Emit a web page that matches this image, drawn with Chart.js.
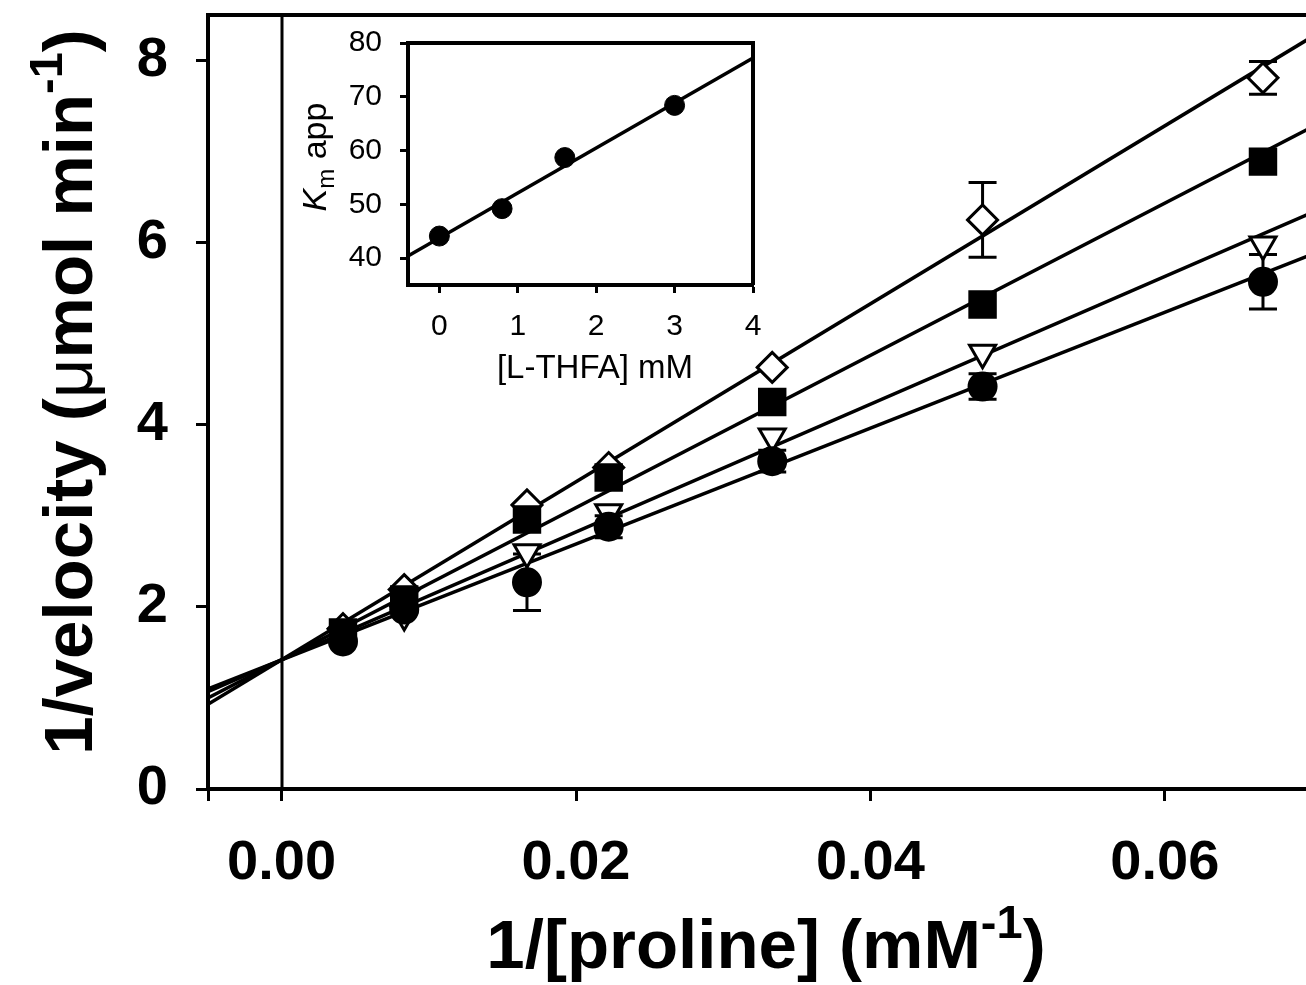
<!DOCTYPE html>
<html>
<head>
<meta charset="utf-8">
<script src="https://cdn.jsdelivr.net/npm/chart.js@4/dist/chart.umd.min.js"></script>
<style>
  html, body { margin: 0; padding: 0; background: #fff; overflow: hidden; }
  #wrap { position: relative; width: 1306px; height: 985px; overflow: hidden; }
  #mainChart { position: absolute; left: 0; top: 0; }
  #insetChart { position: absolute; left: 300px; top: 0; }
</style>
</head>
<body>
<div id="wrap">
  <canvas id="mainChart" width="1312" height="985"></canvas>
  <canvas id="insetChart" width="470" height="392"></canvas>
</div>
<script>
/* ================= DATA ================= */

// 1/[proline] (mM^-1) for 240, 120, 60, 45, 30, 21 and 15 mM proline
const invProline = [0.00417, 0.00833, 0.01667, 0.02222, 0.03333, 0.04762, 0.06667];

// 1/velocity at each L-THFA level
const diamondY  = [1.76, 2.19, 3.12, 3.53, 4.63, 6.25, 7.81];
const diamondEr = [0, 0, 0, 0, 0, 0.41, 0.18];
const squareY   = [1.72, 2.08, 2.96, 3.42, 4.25, 5.32, 6.89];
const triangleY = [1.68, 1.91, 2.60, 3.04, 3.87, 4.79, 5.98];
const circleY   = [1.62, 1.97, 2.27, 2.88, 3.60, 4.42, 5.57];
const circleEr  = [0, 0, 0.31, 0.12, 0.12, 0.14, 0.30];

// fitted lines, ends at left and right of the axis
const fitX        = [-0.005, 0.07];
const diamondFit  = [0.93, 8.26];
const squareFit   = [1.00, 7.27];
const triangleFit = [1.07, 6.33];
const circleFit   = [1.10, 5.87];

const xTicks = [-0.005, 0, 0.02, 0.04, 0.06];
const yTicks = [0, 2, 4, 6, 8];

// inset: apparent Km vs [L-THFA]
const thfa   = [0, 0.8, 1.6, 3.0];
const kmApp  = [44.1, 49.2, 58.7, 68.4];
const kmFitX = [-0.4, 4];
const kmFitY = [40.4, 77.2];

const insetXTicks = [0, 1, 2, 3, 4];
const insetYTicks = [40, 50, 60, 70, 80];

/* ================= HELPERS ================= */

const FONT = '"Liberation Sans", Arial, Helvetica, sans-serif';
Chart.defaults.font.family = FONT;
Chart.defaults.color = '#000';

const pts = (xs, ys) => xs.map((x, i) => ({ x: x, y: ys[i] }));

function fitLine(ys) {
    return {
        type: 'line',
        data: pts(fitX, ys),
        borderColor: '#000',
        borderWidth: 3.5,
        pointRadius: 0,
        fill: false,
        order: 10
    };
}

function markers(ys, style, radius, bg, errs, order, rotation) {
    return {
        type: 'scatter',
        data: pts(invProline, ys),
        pointStyle: style,
        pointRadius: radius,
        rotation: rotation || 0,
        pointBackgroundColor: bg,
        pointBorderColor: '#000',
        pointBorderWidth: 3,
        errors: errs,
        order: order
    };
}

// draws text pieces one after another, pieces: [text, font, baselineShift]
function drawPieces(ctx, pieces, cx, baseY) {
    let total = 0;
    pieces.forEach(p => { ctx.font = p[1]; total += ctx.measureText(p[0]).width; });
    let x = cx - total / 2;
    ctx.textAlign = 'left';
    ctx.textBaseline = 'alphabetic';
    pieces.forEach(p => {
        ctx.font = p[1];
        ctx.fillText(p[0], x, baseY + (p[2] || 0));
        x += ctx.measureText(p[0]).width;
    });
}

const errorBars = {
    id: 'errorBars',
    beforeDatasetsDraw(chart) {
        const ctx = chart.ctx, xs = chart.scales.x, ys = chart.scales.y;
        const area = chart.chartArea;
        ctx.save();
        ctx.strokeStyle = '#000';
        ctx.lineWidth = 3;

        // vertical line at x = 0
        const x0 = Math.round(xs.getPixelForValue(0));
        ctx.beginPath();
        ctx.moveTo(x0, area.top);
        ctx.lineTo(x0, area.bottom);
        ctx.stroke();

        chart.data.datasets.forEach(ds => {
            if (!ds.errors) return;
            ds.data.forEach((p, i) => {
                const e = ds.errors[i];
                if (!e) return;
                const px = xs.getPixelForValue(p.x);
                const top = ys.getPixelForValue(p.y + e);
                const bot = ys.getPixelForValue(p.y - e);
                ctx.beginPath();
                ctx.moveTo(px, top); ctx.lineTo(px, bot);
                ctx.moveTo(px - 14, top); ctx.lineTo(px + 14, top);
                ctx.moveTo(px - 14, bot); ctx.lineTo(px + 14, bot);
                ctx.stroke();
            });
        });
        ctx.restore();
    }
};

/* ================= MAIN PLOT ================= */

const mainTitles = {
    id: 'mainTitles',
    afterDraw(chart) {
        const ctx = chart.ctx, area = chart.chartArea;
        ctx.save();
        ctx.fillStyle = '#000';
        ctx.strokeStyle = '#000';
        ctx.lineWidth = 4;
        // top frame line
        ctx.beginPath();
        ctx.moveTo(area.left - 2, area.top);
        ctx.lineTo(area.right, area.top);
        ctx.stroke();

        const big = 'bold 69px ' + FONT;
        const sup = 'bold 47px ' + FONT;
        drawPieces(ctx, [
            ['1/[proline] (mM', big],
            ['-1', sup, -30],
            [')', big]
        ], 766, 968);

        ctx.translate(92, 392);
        ctx.rotate(-Math.PI / 2);
        drawPieces(ctx, [
            ['1/velocity (', big],
            ['\u03bc', 'normal 69px ' + FONT],
            ['mol min', big],
            ['-1', sup, -30],
            [')', big]
        ], 0, 0);
        ctx.restore();
    }
};

new Chart(document.getElementById('mainChart').getContext('2d'), {
    data: {
        datasets: [
            markers(squareY, 'rect', 18, '#000', null, 0),
            markers(circleY, 'circle', 13.5, '#000', circleEr, 1),
            markers(triangleY, 'triangle', 15, '#fff', null, 2, 180),
            markers(diamondY, 'rectRot', 15, '#fff', diamondEr, 3),
            fitLine(diamondFit),
            fitLine(squareFit),
            fitLine(triangleFit),
            fitLine(circleFit)
        ]
    },
    options: {
        responsive: false,
        devicePixelRatio: 1,
        animation: false,
        events: [],
        layout: { autoPadding: false, padding: { top: 15, left: 0, right: 0, bottom: 0 } },
        plugins: { legend: { display: false }, tooltip: { enabled: false } },
        scales: {
            x: {
                type: 'linear',
                min: -0.005,
                max: 0.07,
                afterBuildTicks: s => { s.ticks = xTicks.map(v => ({ value: v })); },
                afterFit: s => { s.height = 196; s.paddingLeft = 0; s.paddingRight = 0; },
                grid: { display: true, drawOnChartArea: false, tickLength: 12, tickWidth: 3, tickColor: '#000' },
                border: { display: true, color: '#000', width: 4 },
                ticks: {
                    font: { size: 56, weight: 'bold' },
                    color: '#000',
                    padding: 29,
                    maxRotation: 0,
                    autoSkip: false,
                    callback: v => v < 0 ? '' : v.toFixed(2)
                }
            },
            y: {
                type: 'linear',
                min: 0,
                max: 8.5,
                afterBuildTicks: s => { s.ticks = yTicks.map(v => ({ value: v })); },
                afterFit: s => { s.width = 208; s.paddingTop = 0; s.paddingBottom = 0; },
                grid: { display: true, drawOnChartArea: false, tickLength: 12, tickWidth: 3, tickColor: '#000' },
                border: { display: true, color: '#000', width: 4 },
                ticks: {
                    font: { size: 56, weight: 'bold' },
                    color: '#000',
                    padding: 28,
                    autoSkip: false,
                    callback: v => String(v)
                }
            }
        }
    },
    plugins: [errorBars, mainTitles]
});

/* ================= INSET ================= */

const insetDecor = {
    id: 'insetDecor',
    afterDraw(chart) {
        const ctx = chart.ctx, area = chart.chartArea;
        ctx.save();
        ctx.strokeStyle = '#000';
        ctx.fillStyle = '#000';
        ctx.lineWidth = 4;
        ctx.beginPath();
        ctx.moveTo(area.left - 2, area.top);
        ctx.lineTo(area.right, area.top);
        ctx.lineTo(area.right, area.bottom);
        ctx.stroke();

        drawPieces(ctx, [['[L-THFA] mM', 'normal 33px ' + FONT]], 295, 378);

        ctx.translate(26, 157);
        ctx.rotate(-Math.PI / 2);
        drawPieces(ctx, [
            ['K', 'italic 34px ' + FONT],
            ['m', 'normal 24px ' + FONT, 8],
            [' app', 'normal 34px ' + FONT]
        ], 0, 0);
        ctx.restore();
    }
};

new Chart(document.getElementById('insetChart').getContext('2d'), {
    data: {
        datasets: [
            {
                type: 'scatter',
                data: pts(thfa, kmApp),
                pointStyle: 'circle',
                pointRadius: 10,
                pointBackgroundColor: '#000',
                pointBorderColor: '#000',
                pointBorderWidth: 1,
                order: 0
            },
            {
                type: 'line',
                data: pts(kmFitX, kmFitY),
                borderColor: '#000',
                borderWidth: 3.5,
                pointRadius: 0,
                order: 1
            }
        ]
    },
    options: {
        responsive: false,
        devicePixelRatio: 1,
        animation: false,
        events: [],
        layout: { autoPadding: false, padding: { top: 43, left: 0, right: 17, bottom: 0 } },
        plugins: { legend: { display: false }, tooltip: { enabled: false } },
        scales: {
            x: {
                type: 'linear',
                min: -0.4,
                max: 4,
                afterBuildTicks: s => { s.ticks = insetXTicks.map(v => ({ value: v })); },
                afterFit: s => { s.height = 107; s.paddingLeft = 0; s.paddingRight = 0; },
                grid: { display: true, drawOnChartArea: false, tickLength: 8, tickWidth: 3, tickColor: '#000' },
                border: { display: true, color: '#000', width: 4 },
                ticks: { font: { size: 30 }, color: '#000', padding: 16, maxRotation: 0, autoSkip: false }
            },
            y: {
                type: 'linear',
                min: 35,
                max: 80,
                afterBuildTicks: s => { s.ticks = insetYTicks.map(v => ({ value: v })); },
                afterFit: s => { s.width = 108; s.paddingTop = 0; s.paddingBottom = 0; },
                grid: { display: true, drawOnChartArea: false, tickLength: 8, tickWidth: 3, tickColor: '#000' },
                border: { display: true, color: '#000', width: 4 },
                ticks: { font: { size: 30 }, color: '#000', padding: 18, autoSkip: false }
            }
        }
    },
    plugins: [insetDecor]
});
</script>
</body>
</html>
